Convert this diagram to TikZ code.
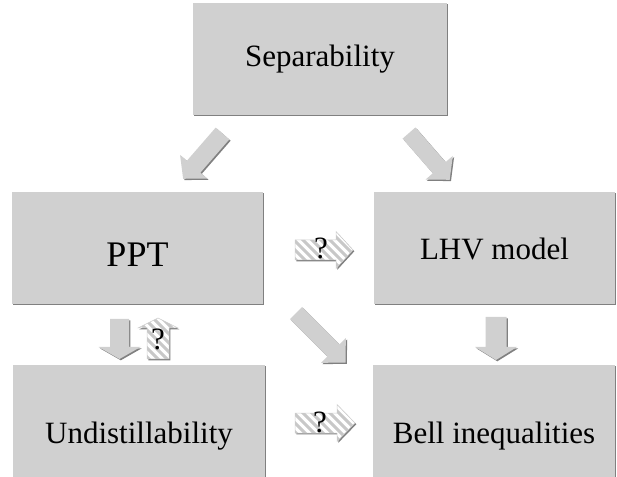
\documentclass[tikz,border=0pt]{standalone}
\usepackage{fontspec}
\setmainfont{Liberation Serif}
\usetikzlibrary{shadows}
\definecolor{boxgray}{RGB}{208,208,208}
\definecolor{shadowgray}{RGB}{128,128,128}
\definecolor{hatchgray}{RGB}{200,200,200}
\tikzset{
  box/.style={rectangle, fill=boxgray, inner sep=0pt, text height=22pt, text depth=7pt,
    font=\fontsize{31}{36}\selectfont,
    drop shadow={shadow xshift=1.3pt, shadow yshift=-1.3pt, fill=shadowgray, opacity=1}},
  qmark/.style={anchor=base, inner sep=0pt, font=\fontsize{31}{33}\selectfont},
}
\newcommand\arrowshape[4]{(0,-#2/2) -- (#1-#4,-#2/2) -- (#1-#4,-#3/2) -- (#1,0) -- (#1-#4,#3/2) -- (#1-#4,#2/2) -- (0,#2/2) -- cycle}
\newcommand\solidarrow[6]{%
  \fill[shadowgray, shift={#1}, shift={(1.3,-1.3)}, rotate=#2] \arrowshape{#3}{#4}{#5}{#6};
  \fill[boxgray, shift={#1}, rotate=#2] \arrowshape{#3}{#4}{#5}{#6};
}
\newcommand\hatcharrow[6]{%
  \fill[shadowgray, shift={#1}, shift={(1.3,-1.3)}, rotate=#2] \arrowshape{#3}{#4}{#5}{#6};
  \begin{scope}
    \clip[shift={#1}, rotate=#2] \arrowshape{#3}{#4}{#5}{#6};
    \fill[white, shift={#1}] (-90,-90) rectangle (90,90);
    \foreach \k in {-162,-153,...,162}
      \draw[hatchgray, line width=3pt, shift={#1}] (\k-90,90) -- (\k+90,-90);
  \end{scope}
  \draw[black!20, line width=0.5pt, shift={#1}, rotate=#2] \arrowshape{#3}{#4}{#5}{#6};
}
\begin{document}
\begin{tikzpicture}[x=1pt,y=1pt]
\useasboundingbox (0,0) rectangle (617,476);
\clip (0,0) rectangle (617,476);

\node[box, minimum width=254pt, minimum height=112pt] (sep) at (320,417) {Separability};
\node[box, font=\fontsize{36}{40}\selectfont, minimum width=251pt, minimum height=112pt] (ppt) at (137.5,228) {\raisebox{-11.5pt}{PPT}};
\node[box, minimum width=241pt, minimum height=112pt] (lhv) at (494.5,228) {\raisebox{-4.5pt}{LHV model}};
\node[box, minimum width=252pt, minimum height=141pt] (und) at (139,40.5) {Undistillability};
\node[box, minimum width=242pt, minimum height=141pt] (bell) at (494,40.5) {Bell inequalities};

% Separability -> PPT, Separability -> LHV
\solidarrow{(222.5,342.5)}{229}{60}{18}{36}{16}
\solidarrow{(409,343)}{-49}{62}{17}{36}{16}
% PPT -> Undistillability
\solidarrow{(119.5,157)}{-90}{40}{19}{42}{12}
% Undistillability -?-> PPT
\hatcharrow{(158,117)}{90}{41}{22}{40}{10}
% PPT -?-> LHV
\hatcharrow{(295,226)}{0}{58}{20}{37}{17}
% Undistillability -?-> Bell
\hatcharrow{(295,53)}{0}{60}{20}{37}{18}
% PPT -> Bell
\solidarrow{(296,163)}{-45}{70}{17}{35}{17}
% LHV -> Bell
\solidarrow{(496,159)}{-90}{43}{21}{42}{13}

\node[qmark] (q1) at (158,126) {?};
\node[qmark] (q2) at (321,217) {?};
\node[qmark] (q3) at (320,44) {?};
\end{tikzpicture}
\end{document}
